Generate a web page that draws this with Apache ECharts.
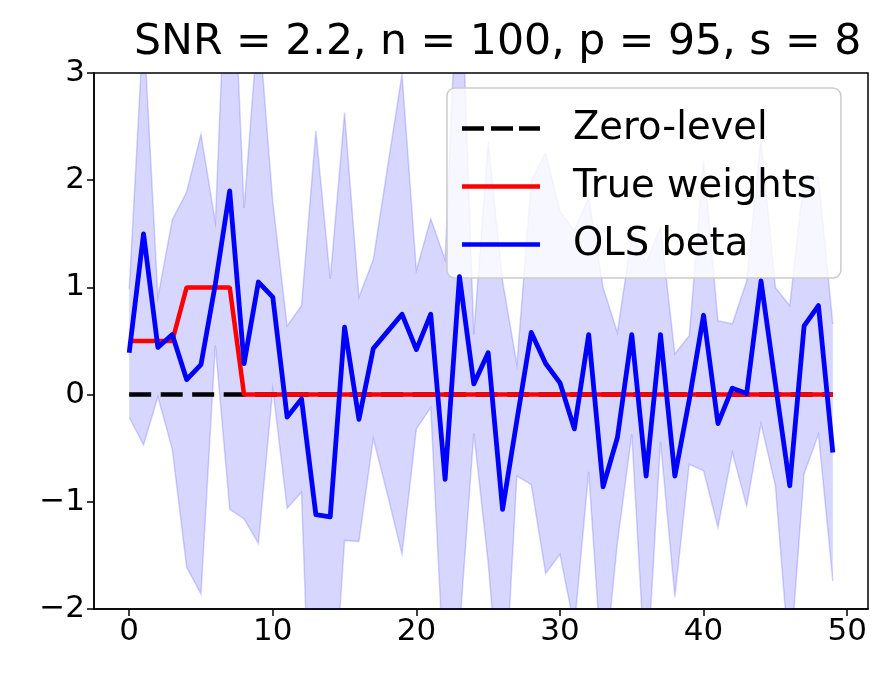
<!DOCTYPE html>
<html><head><meta charset="utf-8">
<script src="https://cdn.jsdelivr.net/npm/echarts@6/dist/echarts.min.js"></script>
<style>html,body{margin:0;padding:0;background:#fff}#c{width:883px;height:673px}</style>
</head><body><div id="c"></div><script>
const titleText = 'SNR = 2.2, n = 100, p = 95, s = 8';
const xIdx = [0,1,2,3,4,5,6,7,8,9,10,11,12,13,14,15,16,17,18,19,20,21,22,23,24,25,26,27,28,29,30,31,32,33,34,35,36,37,38,39,40,41,42,43,44,45,46,47,48,49];
const xTicks = [0,10,20,30,40,50];
const yTicks = [-2,-1,0,1,2,3];
const zeroLevel = [0,0,0,0,0,0,0,0,0,0,0,0,0,0,0,0,0,0,0,0,0,0,0,0,0,0,0,0,0,0,0,0,0,0,0,0,0,0,0,0,0,0,0,0,0,0,0,0,0,0];
const trueWeights = [0.5,0.5,0.5,0.5,1,1,1,1,0,0,0,0,0,0,0,0,0,0,0,0,0,0,0,0,0,0,0,0,0,0,0,0,0,0,0,0,0,0,0,0,0,0,0,0,0,0,0,0,0,0];
const olsBeta = [0.39,1.50,0.44,0.56,0.14,0.28,1.03,1.90,0.29,1.05,
                 0.91,-0.21,-0.04,-1.12,-1.14,0.63,-0.23,0.43,0.59,0.75,
                 0.42,0.75,-0.79,1.10,0.10,0.39,-1.07,-0.24,0.58,0.29,
                 0.11,-0.32,0.56,-0.86,-0.40,0.56,-0.76,0.56,-0.76,-0.05,
                 0.74,-0.27,0.06,0.01,1.06,0.10,-0.85,0.64,0.83,-0.54];
const bandUpper = [0.98,3.47,0.91,1.63,1.89,2.43,1.61,4.87,1.74,3.50,
                   1.80,0.64,0.83,2.46,1.08,2.63,0.91,1.26,2.13,2.99,
                   1.16,1.64,1.26,4.40,0.56,2.36,1.06,0.28,1.99,2.26,
                   1.71,1.53,1.84,1.00,0.58,1.49,1.23,1.56,0.38,0.55,
                   2.19,0.69,0.66,1.06,2.39,1.00,0.83,2.03,2.03,0.66];
const bandLower = [-0.21,-0.47,-0.02,-0.51,-1.61,-1.86,0.46,-1.07,-1.16,-1.39,
                   0.05,-1.06,-0.91,-4.70,-3.36,-1.36,-1.37,-0.41,-0.94,-1.49,
                   -0.32,-0.12,-2.84,-2.20,-0.36,-1.57,-3.20,-0.76,-0.84,-1.67,
                   -1.49,-2.17,-0.72,-2.72,-1.38,-0.37,-2.74,-0.44,-1.89,-0.65,
                   -0.71,-1.24,-0.54,-1.04,-0.27,-0.85,-2.53,-0.74,-0.37,-1.74];

const FONT = 'DejaVu Sans';
const pair = arr => arr.map((v, i) => [xIdx[i], v]);
const bandFill = 'rgba(0,0,255,0.16)';
const bandEdge = 'rgba(0,0,255,0.16)';
const dashIcon = 'path://M0,0h22v4.5h-22z M29,0h22v4.5h-22z M57,0h21v4.5h-21z';

function renderBand(params, api) {
  if (params.dataIndex !== 0) return null;
  const up = xIdx.map((x, i) => api.coord([x, bandUpper[i]]));
  const lo = xIdx.map((x, i) => api.coord([x, bandLower[i]]));
  const cs = params.coordSys;
  return {
    type: 'group',
    clipPath: {type: 'rect', shape: {x: cs.x, y: cs.y, width: cs.width, height: cs.height}},
    children: [
      {type: 'polygon', shape: {points: up.concat(lo.slice().reverse())},
       style: {fill: bandFill, stroke: null}},
      {type: 'polyline', shape: {points: up}, style: {fill: null, stroke: bandEdge, lineWidth: 1.5}},
      {type: 'polyline', shape: {points: lo}, style: {fill: null, stroke: bandEdge, lineWidth: 1.5}}
    ]
  };
}

const chart = echarts.init(document.getElementById('c'), null, {renderer: 'canvas'});
chart.setOption({
  animation: false,
  backgroundColor: '#fff',
  title: {
    text: titleText, left: 134, top: 21, padding: 0,
    textStyle: {fontFamily: FONT, fontSize: 42.6, fontWeight: 'normal', color: '#000'}
  },
  grid: {left: 94, right: 15, top: 73, bottom: 64, show: true, borderColor: '#000', borderWidth: 1.5, backgroundColor: 'transparent'},
  xAxis: {
    type: 'value', min: -2.45, max: 51.45,
    splitLine: {show: false},
    axisLine: {show: true, onZero: false, lineStyle: {color: '#000', width: 1.5}},
    axisTick: {show: true, length: 7, lineStyle: {color: '#000', width: 1.5}, customValues: xTicks},
    axisLabel: {fontFamily: FONT, fontSize: 31, color: '#000', margin: 7, customValues: xTicks}
  },
  yAxis: {
    type: 'value', min: -2, max: 3, interval: 1,
    splitLine: {show: false},
    axisLine: {show: true, onZero: false, lineStyle: {color: '#000', width: 1.5}},
    axisTick: {show: true, length: 7, lineStyle: {color: '#000', width: 1.5}, customValues: yTicks},
    axisLabel: {fontFamily: FONT, fontSize: 31, color: '#000', margin: 9, customValues: yTicks,
      formatter: v => (v < 0 ? '\u2212' + Math.abs(v) : String(v))}
  },
  legend: {
    data: [
      {name: 'Zero-level', icon: dashIcon},
      {name: 'True weights', icon: 'rect'},
      {name: 'OLS beta', icon: 'rect'}
    ],
    orient: 'vertical', left: 447, top: 88,
    padding: [21, 24, 14, 15],
    itemWidth: 78, itemHeight: 4.5, itemGap: 19,
    backgroundColor: 'rgba(255,255,255,0.8)', borderColor: '#cccccc', borderWidth: 1.5, borderRadius: 8,
    textStyle: {fontFamily: FONT, fontSize: 38.5, color: '#000', lineHeight: 38, padding: [0, 0, 0, 28]}
  },
  series: [
    {name: 'band', type: 'custom', renderItem: renderBand, data: pair(bandUpper),
     encode: {x: 0, y: 1}, z: 1, silent: true, clip: true},
    {name: 'Zero-level', type: 'line', data: pair(zeroLevel), symbol: 'none', z: 3,
     itemStyle: {color: '#000'},
     lineStyle: {color: '#000', width: 4.5, type: [22, 9.5]}},
    {name: 'True weights', type: 'line', data: pair(trueWeights), symbol: 'none', z: 4,
     itemStyle: {color: '#ff0000'},
     lineStyle: {color: '#ff0000', width: 4.5}},
    {name: 'OLS beta', type: 'line', data: pair(olsBeta), symbol: 'none', z: 5,
     itemStyle: {color: '#0000ff'},
     lineStyle: {color: '#0000ff', width: 4.8, join: 'round'}}
  ]
});
</script></body></html>
